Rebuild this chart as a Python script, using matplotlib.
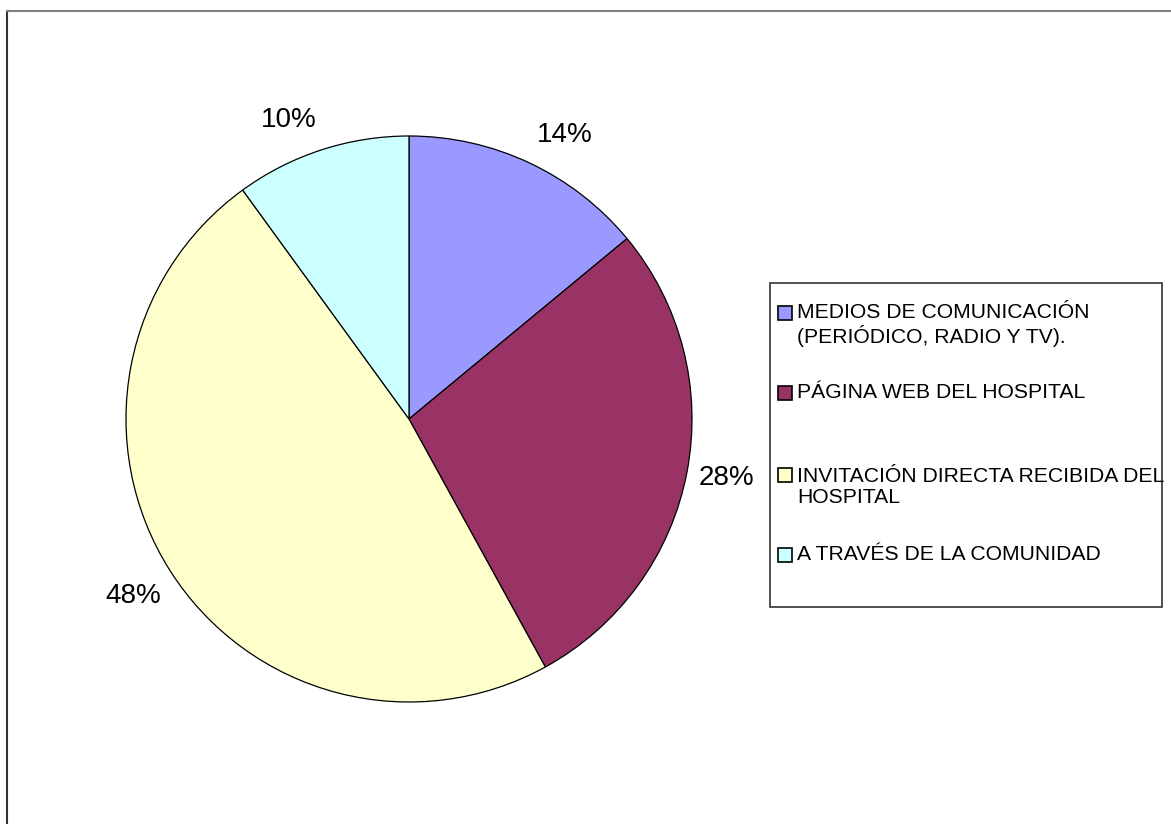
import numpy as np
import matplotlib
matplotlib.use('Agg')
import matplotlib.pyplot as plt
from matplotlib.patches import Rectangle
from matplotlib.lines import Line2D

plt.rcParams['font.family'] = ['Liberation Sans', 'DejaVu Sans']

# datos
categorias = ['MEDIOS DE COMUNICACIÓN\n(PERIÓDICO, RADIO Y TV).',
              'PÁGINA WEB DEL HOSPITAL',
              'INVITACIÓN DIRECTA RECIBIDA DEL\nHOSPITAL',
              'A TRAVÉS DE LA COMUNIDAD']
porcentajes = [14, 28, 48, 10]
colores = ['#9999FF', '#993366', '#FFFFCC', '#CCFFFF']

W, H = 1171, 824
fig = plt.figure(figsize=(W / 100, H / 100), dpi=100)

# pie: centro (409, 419) px, radio 283 px
cx, cy, r = 409, 419, 283
ax = fig.add_axes([(cx - r) / W, (H - cy - r) / H, 2 * r / W, 2 * r / H])
wedges, texts, autotexts = ax.pie(porcentajes, colors=colores, startangle=90, counterclock=False,
                                  autopct='%1.0f%%', pctdistance=1.12,
                                  wedgeprops=dict(edgecolor='black', linewidth=0.9),
                                  textprops=dict(fontsize=20, color='black'))
ax.set_xlim(-1, 1)
ax.set_ylim(-1, 1)

# ajuste de etiquetas (como en Excel)
nudges = [(0.075, -0.01), (0.02, 0.0), (-0.03, -0.025), (-0.08, -0.01)]
for t, (dx, dy) in zip(autotexts, nudges):
    x, y = t.get_position()
    t.set_position((x + dx, y + dy))

# leyenda
fig.add_artist(Rectangle((770 / W, 1 - 607 / H), (1162 - 770) / W, (607 - 283) / H,
                         transform=fig.transFigure, facecolor='white', edgecolor='#333333', lw=1.2))
leg_y = [325, 393, 487, 555]
for lab, col, yy in zip(categorias, colores, leg_y):
    nlines = lab.count('\n') + 1
    y_first = yy - (nlines - 1) * 12
    fig.add_artist(Rectangle((778 / W, 1 - (y_first + 7) / H), 14 / W, 14 / H,
                             transform=fig.transFigure, facecolor=col, edgecolor='black', lw=1.2))
    fig.text(797 / W, 1 - yy / H, lab, fontsize=15.2, va='center', ha='left', linespacing=1.15)

# marco exterior (solo izquierda y arriba visibles)
fig.add_artist(Line2D([6.5 / W, 6.5 / W], [0, 1 - 10.5 / H], transform=fig.transFigure, color='#333333', lw=1.5))
fig.add_artist(Line2D([6.5 / W, 1], [1 - 10.5 / H, 1 - 10.5 / H], transform=fig.transFigure, color='#808080', lw=1.5))

fig.savefig('out.png', dpi=100)
